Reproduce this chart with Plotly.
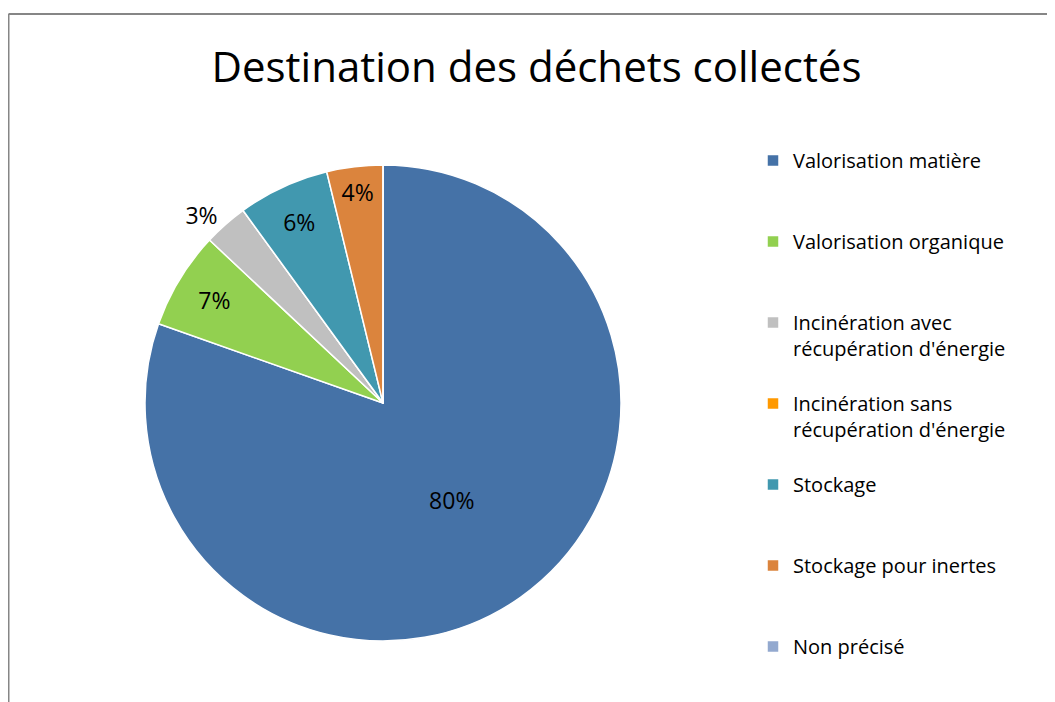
import plotly.graph_objects as go

categories = [
    "Valorisation matière",
    "Valorisation organique",
    "Incinération avec<br>récupération d'énergie",
    "Incinération sans<br>récupération d'énergie",
    "Stockage",
    "Stockage pour inertes",
    "Non précisé",
]
values = [80.4, 6.6, 3.0, 0.0, 6.2, 3.8, 0.0]
colors = ["#4572A7", "#92D050", "#C0C0C0", "#FF9900", "#4198AF", "#DB843D", "#93A9CF"]
label_positions = ["inside", "inside", "outside", "none", "inside", "inside", "none"]

FONT = "Open Sans, sans-serif"
W, H = 1047, 694  # page body adds an 8px offset

# pad legend entries (except the last) so each occupies the same vertical slot
legend_labels = []
for i, c in enumerate(categories):
    n = c.count("<br>") + 1
    pad = 0 if i == len(categories) - 1 else 3 - n
    legend_labels.append(c + "<br> " * pad)

fig = go.Figure(
    go.Pie(
        labels=legend_labels,
        values=values,
        sort=False,
        direction="clockwise",
        rotation=0,
        marker=dict(colors=colors, line=dict(color="white", width=1.5)),
        texttemplate="%{percent:.0%}",
        textposition=label_positions,
        insidetextorientation="horizontal",
        textfont=dict(family=FONT, size=23, color="#000000"),
        domain=dict(x=[137 / W, 613 / W], y=[1 - 633 / H, 1 - 157 / H]),
        hoverinfo="label+percent",
    )
)

fig.update_layout(
    width=W,
    height=H,
    margin=dict(l=0, r=0, t=0, b=0),
    paper_bgcolor="white",
    font=dict(family=FONT, color="#000000"),
    title=dict(
        text="Destination des déchets collectés",
        x=528.5 / W,
        xanchor="center",
        y=1 - 59 / H,
        yanchor="middle",
        font=dict(family=FONT, size=42, color="#000000"),
    ),
    legend=dict(
        x=745 / W,
        xanchor="left",
        y=1 - 133 / H,
        yanchor="top",
        valign="top",
        font=dict(family=FONT, size=20, color="#000000"),
        bgcolor="rgba(0,0,0,0)",
        tracegroupgap=0,
    ),
    showlegend=True,
    shapes=[
        dict(type="line", xref="paper", yref="paper",
             x0=0.5 / W, x1=1.05, y0=1 - 6 / H, y1=1 - 6 / H,
             line=dict(color="#868686", width=2)),
        dict(type="line", xref="paper", yref="paper",
             x0=0.5 / W, x1=0.5 / W, y0=1 - 6 / H, y1=-0.05,
             line=dict(color="#868686", width=2)),
    ],
)

fig.write_html("out.html")
